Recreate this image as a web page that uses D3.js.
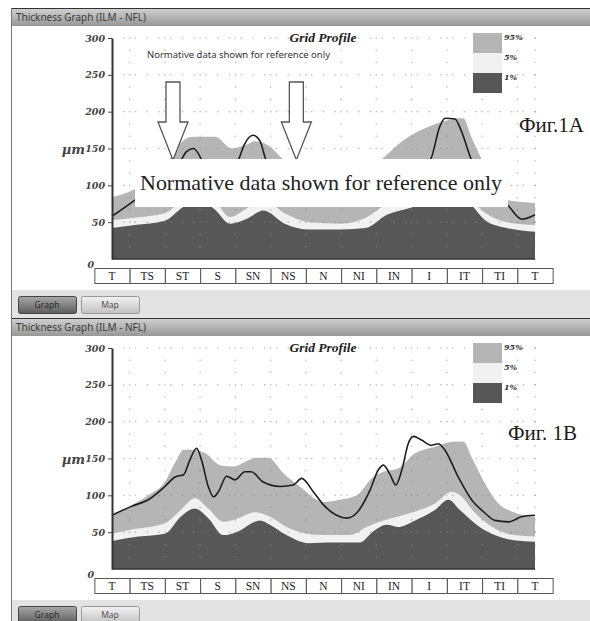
<!DOCTYPE html>
<html>
<head>
<meta charset="utf-8">
<script src="https://cdn.jsdelivr.net/npm/d3@7"></script>
<style>
  body { margin: 0; background: #fff; }
  svg { display: block; }
</style>
</head>
<body>
<svg id="chart" width="590" height="621"></svg>
<script>
// sector labels under the graph
var sectors = ["T", "TS", "ST", "S", "SN", "NS", "N", "NI", "IN", "I", "IT", "TI", "T"];
var yTicks = [0, 50, 100, 150, 200, 250, 300];
var legendKeys = ["95%", "5%", "1%"];

// [sector position, thickness um] -- top graph (1A)
var topP95 = [[0,84],[0.65,95],[1.2,115],[1.65,137],[2.0,160],[2.3,166],[2.93,166],[3.4,150],[3.8,155],[4.05,160],[4.5,152],[4.81,137],[5.3,118],[6.0,102],[6.5,100],[7.0,110],[7.69,137],[8.26,161],[9.1,182],[9.5,188],[9.8,191],[9.96,191],[10.2,165],[10.5,134],[10.9,100],[11.2,80],[12,76]];
var topP5 = [[0,53],[0.65,56],[1.5,62],[2.0,80],[2.4,92],[2.9,80],[3.35,57],[3.8,68],[4.3,80],[4.9,62],[5.6,50],[6.5,48],[7.2,56],[7.8,75],[8.5,85],[9.5,100],[10.1,85],[10.6,62],[11.2,50],[12,46]];
var topP1 = [[0,42],[0.65,46],[1.5,52],[2.0,70],[2.4,80],[2.9,68],[3.35,48],[3.8,54],[4.3,66],[4.9,48],[5.6,40],[6.5,40],[7.2,42],[7.8,60],[8.5,70],[9.5,90],[10.1,78],[10.6,52],[11.2,42],[12,37]];
var topThickness = [[0,58],[0.65,80],[1.2,100],[1.6,125],[1.95,134],[2.1,145],[2.31,150],[2.45,143],[2.55,134],[2.9,115],[3.25,120],[3.58,134],[3.75,155],[4.0,168],[4.2,160],[4.38,134],[5.0,115],[6.0,85],[6.7,75],[7.5,105],[8.5,125],[9.02,134],[9.3,180],[9.45,191],[9.73,190],[9.9,175],[10.2,134],[10.7,100],[11.23,73],[11.63,54],[12,60]];

// bottom graph (1B)
var botP95 = [[0,72],[0.46,84],[1.03,100],[1.5,118],[1.83,148],[2.03,162],[2.31,162],[2.65,157],[3.06,141],[3.44,139],[3.8,146],[4.1,151],[4.43,151],[4.86,130],[5.33,112],[6.0,91],[6.47,94],[6.94,100],[7.41,125],[7.7,132],[8.1,136],[8.6,157],[9.16,166],[9.73,173],[9.97,173],[10.2,152],[10.58,116],[10.96,89],[11.34,78],[12,71]];
var botP5 = [[0,48],[0.5,53],[1.5,62],[1.95,80],[2.35,96],[2.73,82],[3.16,64],[3.58,69],[4.05,77],[4.2,76],[4.48,71],[4.95,57],[5.52,48],[6.0,46],[6.75,46],[7.22,57],[7.7,66],[8.1,71],[8.6,78],[9.16,89],[9.63,105],[9.87,100],[10.3,76],[10.86,55],[11.4,46],[12,44]];
var botP1 = [[0,38],[0.75,44],[1.5,48],[1.95,71],[2.35,82],[2.73,69],[3.16,46],[3.58,51],[4.05,64],[4.2,66],[4.48,60],[4.95,46],[5.57,35],[6.3,36],[7.03,36],[7.41,51],[7.8,60],[8.1,57],[8.6,66],[9.16,80],[9.54,94],[9.87,80],[10.43,57],[10.86,46],[11.4,39],[12,37]];
var botThickness = [[0,73],[0.55,85],[1.03,94],[1.5,112],[1.79,125],[2.03,128],[2.21,148],[2.4,164],[2.54,148],[2.73,112],[2.88,98],[3.02,105],[3.25,126],[3.49,121],[3.77,132],[3.95,132],[4.29,118],[4.77,112],[5.14,114],[5.38,123],[5.71,105],[6.0,87],[6.37,73],[6.66,69],[6.94,76],[7.32,107],[7.55,134],[7.7,141],[7.89,128],[8.05,114],[8.22,134],[8.41,171],[8.55,180],[8.78,175],[9.06,168],[9.25,170],[9.45,161],[9.82,125],[10.2,94],[10.58,76],[10.86,66],[11.24,64],[11.62,71],[12,73]];

// arrows on the top graph, sector positions
var arrowsAt = [1.73, 5.23];

var svg = d3.select("#chart");
var serif = "'Liberation Serif', 'Times New Roman', serif";
var tickFont = "'DejaVu Serif', serif";
var sans = "'Noto Sans', 'DejaVu Sans', sans-serif";

var defs = svg.append("defs");
var gradBar = defs.append("linearGradient").attr("id", "tbar").attr("x1", 0).attr("y1", 0).attr("x2", 0).attr("y2", 1);
gradBar.append("stop").attr("offset", "0%").attr("stop-color", "#d2d2d2");
gradBar.append("stop").attr("offset", "100%").attr("stop-color", "#979797");
var gradOn = defs.append("linearGradient").attr("id", "btnOn").attr("x1", 0).attr("y1", 0).attr("x2", 0).attr("y2", 1);
gradOn.append("stop").attr("offset", "0%").attr("stop-color", "#a8a8a8");
gradOn.append("stop").attr("offset", "100%").attr("stop-color", "#5c5c5c");
var gradOff = defs.append("linearGradient").attr("id", "btnOff").attr("x1", 0).attr("y1", 0).attr("x2", 0).attr("y2", 1);
gradOff.append("stop").attr("offset", "0%").attr("stop-color", "#f2f2f2");
gradOff.append("stop").attr("offset", "100%").attr("stop-color", "#c2c2c2");

var x = d3.scaleLinear().domain([0, 12]).range([112, 535]);
var y = d3.scaleLinear().domain([0, 300]).range([259, 38]);
var step = x(1) - x(0);

var colP95 = "#b5b5b5", colP5 = "#f1f1f1", colP1 = "#575757";

function drawPanel(dy, p95, p5, p1, thick, fig, figX, figY) {
  var g = svg.append("g").attr("transform", "translate(0," + dy + ")");

  // window frame
  g.append("rect").attr("x", 11).attr("y", 8).attr("width", 579).attr("height", 310).attr("fill", "#fff");
  g.append("rect").attr("x", 11).attr("y", 8).attr("width", 579).attr("height", 18).attr("fill", "url(#tbar)");
  g.append("line").attr("x1", 11).attr("x2", 590).attr("y1", 8.5).attr("y2", 8.5).attr("stroke", "#333");
  g.append("line").attr("x1", 11.5).attr("x2", 11.5).attr("y1", 8).attr("y2", 318).attr("stroke", "#777");
  g.append("text").attr("x", 16).attr("y", 21).attr("font-family", sans).attr("font-size", 10)
    .attr("fill", "#3a3a3a").attr("textLength", 130).attr("lengthAdjust", "spacingAndGlyphs")
    .text("Thickness Graph  (ILM - NFL)");

  // strip with buttons
  g.append("rect").attr("x", 12).attr("y", 290).attr("width", 578).attr("height", 28).attr("fill", "#e3e3e3");
  g.append("rect").attr("x", 18.5).attr("y", 296.5).attr("width", 58).attr("height", 17).attr("rx", 2)
    .attr("fill", "url(#btnOn)").attr("stroke", "#444");
  g.append("text").attr("x", 47).attr("y", 308).attr("text-anchor", "middle").attr("font-family", sans)
    .attr("font-size", 8.5).attr("fill", "#2a2a2a").text("Graph");
  g.append("rect").attr("x", 81.5).attr("y", 296.5).attr("width", 58).attr("height", 17).attr("rx", 2)
    .attr("fill", "url(#btnOff)").attr("stroke", "#999");
  g.append("text").attr("x", 110).attr("y", 308).attr("text-anchor", "middle").attr("font-family", sans)
    .attr("font-size", 8.5).attr("fill", "#555").text("Map");

  // normative bands and thickness line
  var area = d3.area().x(function(d) { return x(d[0]); }).y0(y(0)).y1(function(d) { return y(d[1]); })
    .curve(d3.curveMonotoneX);
  var line = d3.line().x(function(d) { return x(d[0]); }).y(function(d) { return y(d[1]); })
    .curve(d3.curveMonotoneX);
  g.append("path").datum(p95).attr("d", area).attr("fill", colP95);
  g.append("path").datum(p5).attr("d", area).attr("fill", colP5);
  g.append("path").datum(p1).attr("d", area).attr("fill", colP1);

  // dotted grid
  var dots = [];
  var cols = d3.range(0.5, 12, 1).concat([12]);
  cols.forEach(function(c) {
    d3.range(0, 301, 50 / 3).forEach(function(v) { dots.push([x(c), y(v)]); });
  });
  d3.range(50, 301, 50).forEach(function(v) {
    d3.range(1 / 3, 12.01, 1 / 3).forEach(function(c) { dots.push([x(c), y(v)]); });
  });
  g.append("g").selectAll("circle").data(dots).enter().append("circle")
    .attr("cx", function(d) { return d[0]; }).attr("cy", function(d) { return d[1]; })
    .attr("r", 0.8).attr("fill", "#888").attr("opacity", 0.55);

  g.append("path").datum(thick).attr("d", line).attr("fill", "none")
    .attr("stroke", "#1e1e1e").attr("stroke-width", 1.6);

  // axes
  g.append("line").attr("x1", x(0)).attr("x2", x(12)).attr("y1", y(0)).attr("y2", y(0))
    .attr("stroke", "#333").attr("stroke-width", 1.5);
  var ax = g.append("g").attr("transform", "translate(" + x(0) + ",0)")
    .call(d3.axisLeft(y).tickValues(yTicks).tickSize(4).tickSizeOuter(0).tickPadding(3));
  ax.select(".domain").attr("stroke", "#333").attr("stroke-width", 2);
  ax.selectAll(".tick line").attr("stroke", "#444");
  ax.selectAll(".tick text").attr("font-family", tickFont).attr("font-style", "italic")
    .attr("font-weight", "bold").attr("font-size", 9.5).attr("fill", "#444");
  ax.selectAll(".tick").filter(function(d) { return d === 0; }).each(function() {
    d3.select(this).select("line").remove();
    d3.select(this).select("text").attr("x", -18).attr("dy", "0.9em");
  });
  g.append("text").attr("x", 85).attr("y", y(150) + 5).attr("text-anchor", "end")
    .attr("font-family", tickFont).attr("font-style", "italic").attr("font-weight", "bold")
    .attr("font-size", 13).attr("fill", "#444").text("\u00b5m");

  // sector label cells
  var cells = g.append("g").selectAll("g").data(sectors).enter().append("g");
  cells.append("rect").attr("x", function(d, i) { return x(i) - step / 2 + 0.5; }).attr("y", 268.5)
    .attr("width", step).attr("height", 15).attr("fill", "#fff").attr("stroke", "#555");
  cells.append("text").attr("x", function(d, i) { return x(i); }).attr("y", 280)
    .attr("text-anchor", "middle").attr("font-family", serif).attr("font-size", 11.5)
    .attr("fill", "#222").text(function(d) { return d; });

  // title and legend
  g.append("text").attr("x", 323).attr("y", 42).attr("text-anchor", "middle").attr("font-family", serif)
    .attr("font-style", "italic").attr("font-weight", "bold").attr("font-size", 13.5).attr("fill", "#222")
    .text("Grid Profile");
  var leg = g.append("g").selectAll("g").data(legendKeys).enter().append("g");
  leg.append("rect").attr("x", 473).attr("y", function(d, i) { return 33 + i * 20; })
    .attr("width", 29).attr("height", 20)
    .attr("fill", function(d, i) { return [colP95, colP5, colP1][i]; });
  leg.append("text").attr("x", 504).attr("y", function(d, i) { return 40 + i * 20; })
    .attr("font-family", tickFont).attr("font-style", "italic").attr("font-weight", "bold")
    .attr("font-size", 8).attr("fill", "#333").text(function(d) { return d; });

  g.append("text").attr("x", figX).attr("y", figY).attr("font-family", serif).attr("font-size", 21)
    .attr("fill", "#1a1a1a").text(fig);
  return g;
}

var gTop = drawPanel(0, topP95, topP5, topP1, topThickness, "\u0424\u0438\u0433.1A", 519, 132);
drawPanel(310, botP95, botP5, botP1, botThickness, "\u0424\u0438\u0433. 1B", 508, 130);

// annotations on the top graph
gTop.append("text").attr("x", 147).attr("y", 58).attr("font-family", sans).attr("font-size", 8.5)
  .attr("fill", "#333").attr("textLength", 183).attr("lengthAdjust", "spacingAndGlyphs")
  .text("Normative data shown for reference only");

gTop.selectAll("path.arrow").data(arrowsAt).enter().append("path").attr("class", "arrow")
  .attr("d", function(u) {
    var c = x(u);
    return "M" + (c - 7) + ",82 L" + (c + 7) + ",82 L" + (c + 7) + ",122 L" + (c + 15) + ",122 L" + c +
      ",160 L" + (c - 15) + ",122 L" + (c - 7) + ",122 Z";
  })
  .attr("fill", "#fff").attr("stroke", "#555").attr("stroke-width", 1.3);

gTop.append("rect").attr("x", 135).attr("y", 159).attr("width", 373).attr("height", 48).attr("fill", "#fff");
gTop.append("text").attr("x", 321).attr("y", 190).attr("text-anchor", "middle").attr("font-family", serif)
  .attr("font-size", 21).attr("fill", "#222").attr("textLength", 362).attr("lengthAdjust", "spacingAndGlyphs")
  .text("Normative data shown for reference only");
</script>
</body>
</html>
